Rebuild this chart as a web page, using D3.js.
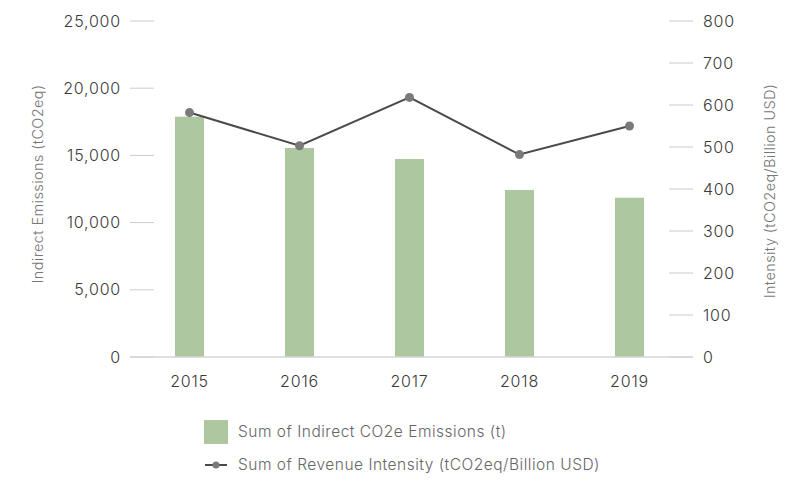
<!DOCTYPE html>
<html lang="en">
<head>
    <meta charset="UTF-8">
    <title>Indirect Emissions and Revenue Intensity</title>
    <script src="https://d3js.org/d3.v7.min.js"></script>
    <style>
        body { margin: 0; background: #fff; font-family: Inter, "Open Sans", sans-serif; }
        .tick-label { font-size: 16px; fill: #3a3a3a; font-weight: 300; letter-spacing: 0.8px; }
        .axis-title { font-size: 14.5px; fill: #777; font-weight: 300; letter-spacing: 0.4px; }
        .legend-text { font-size: 15.5px; fill: #666; font-weight: 300; letter-spacing: 0.5px; }
    </style>
</head>
<body>
    <div id="chart"></div>
    <script>
        const years = ["2015", "2016", "2017", "2018", "2019"];
        const emissions = [17880, 15550, 14730, 12430, 11850];
        const intensity = [582, 503, 618, 482, 550];
        const leftTicks = [0, 5000, 10000, 15000, 20000, 25000];
        const rightTicks = [0, 100, 200, 300, 400, 500, 600, 700, 800];

        const W = 807, H = 481;
        const plotTop = 21, plotBottom = 357;

        const svg = d3.select("#chart").append("svg")
            .attr("width", W)
            .attr("height", H);

        const x = d3.scaleBand()
            .domain(years)
            .range([134.5, 684.5])
            .paddingInner(0.736)
            .paddingOuter(0.368);

        const yL = d3.scaleLinear().domain([0, 25000]).range([plotBottom, plotTop]);
        const yR = d3.scaleLinear().domain([0, 800]).range([plotBottom, plotTop]);

        // left axis ticks
        const lt = svg.append("g");
        lt.selectAll("line").data(leftTicks).enter().append("line")
            .attr("x1", 130).attr("x2", 154)
            .attr("y1", d => yL(d)).attr("y2", d => yL(d))
            .attr("stroke", "#ccc").attr("stroke-width", 1);
        lt.selectAll("text").data(leftTicks).enter().append("text")
            .attr("class", "tick-label")
            .attr("x", 121).attr("y", d => yL(d))
            .attr("dy", "0.35em")
            .attr("text-anchor", "end")
            .text(d => d3.format(",")(d));

        // right axis ticks
        const rt = svg.append("g");
        rt.selectAll("line").data(rightTicks).enter().append("line")
            .attr("x1", 669).attr("x2", 693)
            .attr("y1", d => yR(d)).attr("y2", d => yR(d))
            .attr("stroke", "#ccc").attr("stroke-width", 1);
        rt.selectAll("text").data(rightTicks).enter().append("text")
            .attr("class", "tick-label")
            .attr("x", 703).attr("y", d => yR(d))
            .attr("dy", "0.35em")
            .text(d => d);

        // bars
        svg.selectAll(".bar").data(years).enter().append("rect")
            .attr("class", "bar")
            .attr("x", d => x(d))
            .attr("width", x.bandwidth())
            .attr("y", (d, i) => yL(emissions[i]))
            .attr("height", (d, i) => plotBottom - yL(emissions[i]))
            .attr("fill", "#adc8a0");

        // baseline
        svg.append("line")
            .attr("x1", 130).attr("x2", 693)
            .attr("y1", plotBottom).attr("y2", plotBottom)
            .attr("stroke", "#d4d4d4").attr("stroke-width", 1.5);

        // x labels
        svg.selectAll(".xlab").data(years).enter().append("text")
            .attr("class", "tick-label")
            .attr("x", d => x(d) + x.bandwidth() / 2)
            .attr("y", 387)
            .attr("text-anchor", "middle")
            .text(d => d);

        // line
        const line = d3.line()
            .x((d, i) => x(years[i]) + x.bandwidth() / 2)
            .y(d => yR(d));
        svg.append("path")
            .datum(intensity)
            .attr("d", line)
            .attr("fill", "none")
            .attr("stroke", "#4a4a4a")
            .attr("stroke-width", 2);
        svg.selectAll(".pt").data(intensity).enter().append("circle")
            .attr("cx", (d, i) => x(years[i]) + x.bandwidth() / 2)
            .attr("cy", d => yR(d))
            .attr("r", 4.5)
            .attr("fill", "#7a7a7a");

        // axis titles
        svg.append("text")
            .attr("class", "axis-title")
            .attr("transform", "translate(43,184) rotate(-90)")
            .attr("text-anchor", "middle")
            .text("Indirect Emissions (tCO2eq)");
        svg.append("text")
            .attr("class", "axis-title")
            .attr("transform", "translate(775,191) rotate(-90)")
            .attr("text-anchor", "middle")
            .text("Intensity (tCO2eq/Billion USD)");

        // legend
        svg.append("rect")
            .attr("x", 204).attr("y", 420)
            .attr("width", 24).attr("height", 24)
            .attr("fill", "#adc8a0");
        svg.append("text")
            .attr("class", "legend-text")
            .attr("x", 238).attr("y", 432).attr("dy", "0.35em")
            .text("Sum of Indirect CO2e Emissions (t)");
        svg.append("line")
            .attr("x1", 205).attr("x2", 227)
            .attr("y1", 465).attr("y2", 465)
            .attr("stroke", "#4a4a4a").attr("stroke-width", 2);
        svg.append("circle")
            .attr("cx", 216).attr("cy", 465).attr("r", 3.5)
            .attr("fill", "#7a7a7a");
        svg.append("text")
            .attr("class", "legend-text")
            .attr("x", 238).attr("y", 465).attr("dy", "0.35em")
            .text("Sum of Revenue Intensity (tCO2eq/Billion USD)");
    </script>
</body>
</html>
